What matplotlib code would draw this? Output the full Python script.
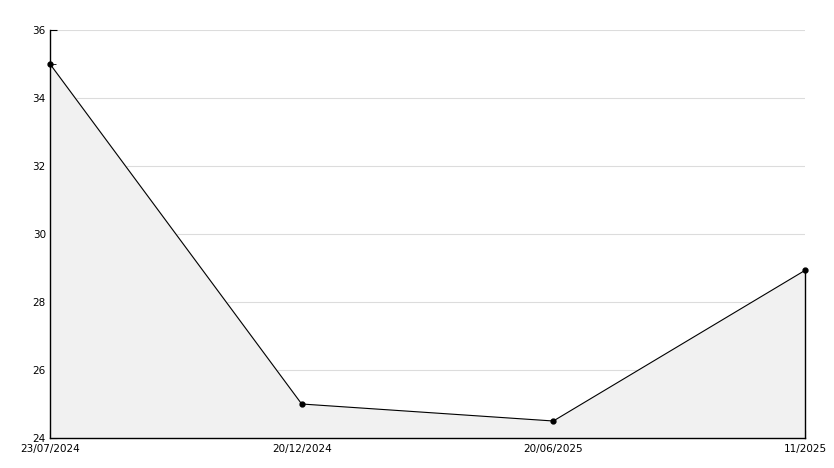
import matplotlib
matplotlib.use("Agg")
import matplotlib.pyplot as plt
import matplotlib.transforms as mtransforms
from matplotlib.ticker import MultipleLocator

dates = ["23/07/2024", "20/12/2024", "20/06/2025", "11/2025"]
values = [35.0, 25.0, 24.5, 28.93]

fig = plt.figure(figsize=(8.34, 4.68), dpi=100)
ax = fig.add_axes([50 / 834, 30 / 468, 755 / 834, 408 / 468])

x = list(range(len(values)))
ax.fill_between(x, values, 24, color="#f1f1f1", zorder=1)
ax.plot(x, values, color="black", linewidth=0.8, marker="o", markersize=3.5,
        zorder=3, clip_on=False)
ax.plot([x[-1], x[-1]], [values[-1], 24], color="black", linewidth=1.0,
        zorder=3, clip_on=False)

ax.set_xlim(0, len(values) - 1)
ax.set_ylim(24, 36)
ax.yaxis.set_major_locator(MultipleLocator(2))
ax.yaxis.set_minor_locator(MultipleLocator(1))
ax.set_xticks(x)
ax.set_xticklabels(dates)
ax.grid(axis="y", color="#dcdcdc", linewidth=0.8, zorder=0)
ax.set_axisbelow(True)

for s in ("top", "right"):
    ax.spines[s].set_visible(False)
for s in ("left", "bottom"):
    ax.spines[s].set_linewidth(1.0)

ax.tick_params(axis="both", which="major", direction="in", length=5, labelsize=7.5, pad=3)
ax.tick_params(axis="y", which="minor", direction="in", length=4)
ax.tick_params(axis="x", which="major", length=6, pad=4)

# nudge the bottom y label up so it clears the first date
fig.canvas.draw()
lab = ax.yaxis.get_major_ticks()[0].label1
lab.set_transform(lab.get_transform() + mtransforms.ScaledTranslation(0, 3 / 72, fig.dpi_scale_trans))

fig.savefig("out.png", dpi=100)
